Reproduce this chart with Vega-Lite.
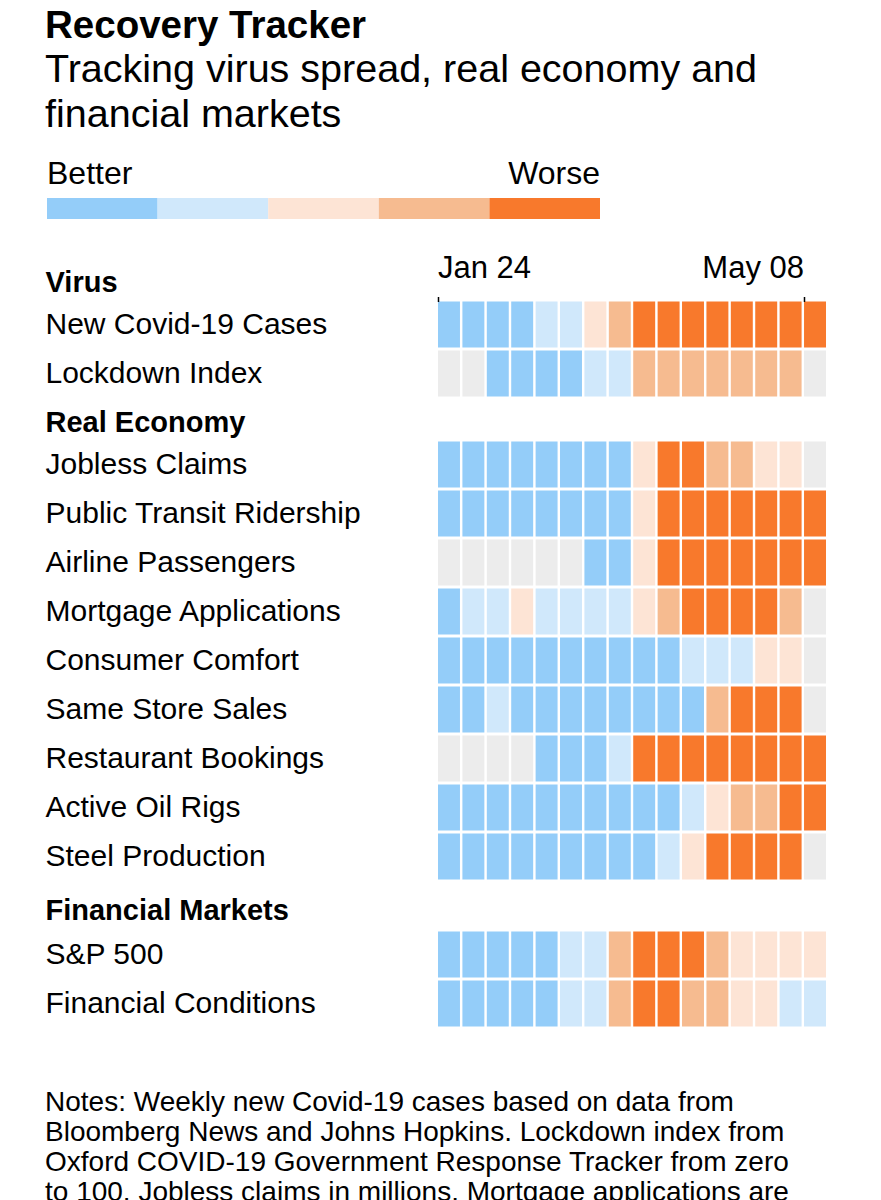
{
  "$schema": "https://vega.github.io/schema/vega-lite/v6.json",
  "background": "white",
  "padding": {"left": 45, "top": 7, "right": 10, "bottom": 0},
  "config": {"view": {"stroke": null}, "font": "Liberation Sans", "axis": {"labelColor": "black", "labelFont": "Liberation Sans"}},
  "title": {
    "text": "Recovery Tracker",
    "subtitle": ["Tracking virus spread, real economy and", "financial markets"],
    "anchor": "start", "frame": "bounds",
    "font": "Liberation Sans", "fontSize": 38.5, "fontWeight": "bold", "color": "black",
    "subtitleFont": "Liberation Sans", "subtitleFontSize": 39.5, "subtitleColor": "black",
    "subtitleLineHeight": 45, "subtitlePadding": 4, "offset": 22
  },
  "datasets": {
    "legend": [{"level": 1}, {"level": 2}, {"level": 3}, {"level": 4}, {"level": 5}],
    "virus": [
      {"indicator": "New Covid-19 Cases", "week": "Jan 24", "level": 1},
      {"indicator": "New Covid-19 Cases", "week": "Jan 31", "level": 1},
      {"indicator": "New Covid-19 Cases", "week": "Feb 07", "level": 1},
      {"indicator": "New Covid-19 Cases", "week": "Feb 14", "level": 1},
      {"indicator": "New Covid-19 Cases", "week": "Feb 21", "level": 2},
      {"indicator": "New Covid-19 Cases", "week": "Feb 28", "level": 2},
      {"indicator": "New Covid-19 Cases", "week": "Mar 06", "level": 3},
      {"indicator": "New Covid-19 Cases", "week": "Mar 13", "level": 4},
      {"indicator": "New Covid-19 Cases", "week": "Mar 20", "level": 5},
      {"indicator": "New Covid-19 Cases", "week": "Mar 27", "level": 5},
      {"indicator": "New Covid-19 Cases", "week": "Apr 03", "level": 5},
      {"indicator": "New Covid-19 Cases", "week": "Apr 10", "level": 5},
      {"indicator": "New Covid-19 Cases", "week": "Apr 17", "level": 5},
      {"indicator": "New Covid-19 Cases", "week": "Apr 24", "level": 5},
      {"indicator": "New Covid-19 Cases", "week": "May 01", "level": 5},
      {"indicator": "New Covid-19 Cases", "week": "May 08", "level": 5},
      {"indicator": "Lockdown Index", "week": "Jan 24", "level": 0},
      {"indicator": "Lockdown Index", "week": "Jan 31", "level": 0},
      {"indicator": "Lockdown Index", "week": "Feb 07", "level": 1},
      {"indicator": "Lockdown Index", "week": "Feb 14", "level": 1},
      {"indicator": "Lockdown Index", "week": "Feb 21", "level": 1},
      {"indicator": "Lockdown Index", "week": "Feb 28", "level": 1},
      {"indicator": "Lockdown Index", "week": "Mar 06", "level": 2},
      {"indicator": "Lockdown Index", "week": "Mar 13", "level": 2},
      {"indicator": "Lockdown Index", "week": "Mar 20", "level": 4},
      {"indicator": "Lockdown Index", "week": "Mar 27", "level": 4},
      {"indicator": "Lockdown Index", "week": "Apr 03", "level": 4},
      {"indicator": "Lockdown Index", "week": "Apr 10", "level": 4},
      {"indicator": "Lockdown Index", "week": "Apr 17", "level": 4},
      {"indicator": "Lockdown Index", "week": "Apr 24", "level": 4},
      {"indicator": "Lockdown Index", "week": "May 01", "level": 4},
      {"indicator": "Lockdown Index", "week": "May 08", "level": 0}
    ],
    "economy": [
      {"indicator": "Jobless Claims", "week": "Jan 24", "level": 1},
      {"indicator": "Jobless Claims", "week": "Jan 31", "level": 1},
      {"indicator": "Jobless Claims", "week": "Feb 07", "level": 1},
      {"indicator": "Jobless Claims", "week": "Feb 14", "level": 1},
      {"indicator": "Jobless Claims", "week": "Feb 21", "level": 1},
      {"indicator": "Jobless Claims", "week": "Feb 28", "level": 1},
      {"indicator": "Jobless Claims", "week": "Mar 06", "level": 1},
      {"indicator": "Jobless Claims", "week": "Mar 13", "level": 1},
      {"indicator": "Jobless Claims", "week": "Mar 20", "level": 3},
      {"indicator": "Jobless Claims", "week": "Mar 27", "level": 5},
      {"indicator": "Jobless Claims", "week": "Apr 03", "level": 5},
      {"indicator": "Jobless Claims", "week": "Apr 10", "level": 4},
      {"indicator": "Jobless Claims", "week": "Apr 17", "level": 4},
      {"indicator": "Jobless Claims", "week": "Apr 24", "level": 3},
      {"indicator": "Jobless Claims", "week": "May 01", "level": 3},
      {"indicator": "Jobless Claims", "week": "May 08", "level": 0},
      {"indicator": "Public Transit Ridership", "week": "Jan 24", "level": 1},
      {"indicator": "Public Transit Ridership", "week": "Jan 31", "level": 1},
      {"indicator": "Public Transit Ridership", "week": "Feb 07", "level": 1},
      {"indicator": "Public Transit Ridership", "week": "Feb 14", "level": 1},
      {"indicator": "Public Transit Ridership", "week": "Feb 21", "level": 1},
      {"indicator": "Public Transit Ridership", "week": "Feb 28", "level": 1},
      {"indicator": "Public Transit Ridership", "week": "Mar 06", "level": 1},
      {"indicator": "Public Transit Ridership", "week": "Mar 13", "level": 1},
      {"indicator": "Public Transit Ridership", "week": "Mar 20", "level": 3},
      {"indicator": "Public Transit Ridership", "week": "Mar 27", "level": 5},
      {"indicator": "Public Transit Ridership", "week": "Apr 03", "level": 5},
      {"indicator": "Public Transit Ridership", "week": "Apr 10", "level": 5},
      {"indicator": "Public Transit Ridership", "week": "Apr 17", "level": 5},
      {"indicator": "Public Transit Ridership", "week": "Apr 24", "level": 5},
      {"indicator": "Public Transit Ridership", "week": "May 01", "level": 5},
      {"indicator": "Public Transit Ridership", "week": "May 08", "level": 5},
      {"indicator": "Airline Passengers", "week": "Jan 24", "level": 0},
      {"indicator": "Airline Passengers", "week": "Jan 31", "level": 0},
      {"indicator": "Airline Passengers", "week": "Feb 07", "level": 0},
      {"indicator": "Airline Passengers", "week": "Feb 14", "level": 0},
      {"indicator": "Airline Passengers", "week": "Feb 21", "level": 0},
      {"indicator": "Airline Passengers", "week": "Feb 28", "level": 0},
      {"indicator": "Airline Passengers", "week": "Mar 06", "level": 1},
      {"indicator": "Airline Passengers", "week": "Mar 13", "level": 1},
      {"indicator": "Airline Passengers", "week": "Mar 20", "level": 3},
      {"indicator": "Airline Passengers", "week": "Mar 27", "level": 5},
      {"indicator": "Airline Passengers", "week": "Apr 03", "level": 5},
      {"indicator": "Airline Passengers", "week": "Apr 10", "level": 5},
      {"indicator": "Airline Passengers", "week": "Apr 17", "level": 5},
      {"indicator": "Airline Passengers", "week": "Apr 24", "level": 5},
      {"indicator": "Airline Passengers", "week": "May 01", "level": 5},
      {"indicator": "Airline Passengers", "week": "May 08", "level": 5},
      {"indicator": "Mortgage Applications", "week": "Jan 24", "level": 1},
      {"indicator": "Mortgage Applications", "week": "Jan 31", "level": 2},
      {"indicator": "Mortgage Applications", "week": "Feb 07", "level": 2},
      {"indicator": "Mortgage Applications", "week": "Feb 14", "level": 3},
      {"indicator": "Mortgage Applications", "week": "Feb 21", "level": 2},
      {"indicator": "Mortgage Applications", "week": "Feb 28", "level": 2},
      {"indicator": "Mortgage Applications", "week": "Mar 06", "level": 2},
      {"indicator": "Mortgage Applications", "week": "Mar 13", "level": 2},
      {"indicator": "Mortgage Applications", "week": "Mar 20", "level": 3},
      {"indicator": "Mortgage Applications", "week": "Mar 27", "level": 4},
      {"indicator": "Mortgage Applications", "week": "Apr 03", "level": 5},
      {"indicator": "Mortgage Applications", "week": "Apr 10", "level": 5},
      {"indicator": "Mortgage Applications", "week": "Apr 17", "level": 5},
      {"indicator": "Mortgage Applications", "week": "Apr 24", "level": 5},
      {"indicator": "Mortgage Applications", "week": "May 01", "level": 4},
      {"indicator": "Mortgage Applications", "week": "May 08", "level": 0},
      {"indicator": "Consumer Comfort", "week": "Jan 24", "level": 1},
      {"indicator": "Consumer Comfort", "week": "Jan 31", "level": 1},
      {"indicator": "Consumer Comfort", "week": "Feb 07", "level": 1},
      {"indicator": "Consumer Comfort", "week": "Feb 14", "level": 1},
      {"indicator": "Consumer Comfort", "week": "Feb 21", "level": 1},
      {"indicator": "Consumer Comfort", "week": "Feb 28", "level": 1},
      {"indicator": "Consumer Comfort", "week": "Mar 06", "level": 1},
      {"indicator": "Consumer Comfort", "week": "Mar 13", "level": 1},
      {"indicator": "Consumer Comfort", "week": "Mar 20", "level": 1},
      {"indicator": "Consumer Comfort", "week": "Mar 27", "level": 1},
      {"indicator": "Consumer Comfort", "week": "Apr 03", "level": 2},
      {"indicator": "Consumer Comfort", "week": "Apr 10", "level": 2},
      {"indicator": "Consumer Comfort", "week": "Apr 17", "level": 2},
      {"indicator": "Consumer Comfort", "week": "Apr 24", "level": 3},
      {"indicator": "Consumer Comfort", "week": "May 01", "level": 3},
      {"indicator": "Consumer Comfort", "week": "May 08", "level": 0},
      {"indicator": "Same Store Sales", "week": "Jan 24", "level": 1},
      {"indicator": "Same Store Sales", "week": "Jan 31", "level": 1},
      {"indicator": "Same Store Sales", "week": "Feb 07", "level": 2},
      {"indicator": "Same Store Sales", "week": "Feb 14", "level": 1},
      {"indicator": "Same Store Sales", "week": "Feb 21", "level": 1},
      {"indicator": "Same Store Sales", "week": "Feb 28", "level": 1},
      {"indicator": "Same Store Sales", "week": "Mar 06", "level": 1},
      {"indicator": "Same Store Sales", "week": "Mar 13", "level": 1},
      {"indicator": "Same Store Sales", "week": "Mar 20", "level": 1},
      {"indicator": "Same Store Sales", "week": "Mar 27", "level": 1},
      {"indicator": "Same Store Sales", "week": "Apr 03", "level": 1},
      {"indicator": "Same Store Sales", "week": "Apr 10", "level": 4},
      {"indicator": "Same Store Sales", "week": "Apr 17", "level": 5},
      {"indicator": "Same Store Sales", "week": "Apr 24", "level": 5},
      {"indicator": "Same Store Sales", "week": "May 01", "level": 5},
      {"indicator": "Same Store Sales", "week": "May 08", "level": 0},
      {"indicator": "Restaurant Bookings", "week": "Jan 24", "level": 0},
      {"indicator": "Restaurant Bookings", "week": "Jan 31", "level": 0},
      {"indicator": "Restaurant Bookings", "week": "Feb 07", "level": 0},
      {"indicator": "Restaurant Bookings", "week": "Feb 14", "level": 0},
      {"indicator": "Restaurant Bookings", "week": "Feb 21", "level": 1},
      {"indicator": "Restaurant Bookings", "week": "Feb 28", "level": 1},
      {"indicator": "Restaurant Bookings", "week": "Mar 06", "level": 1},
      {"indicator": "Restaurant Bookings", "week": "Mar 13", "level": 2},
      {"indicator": "Restaurant Bookings", "week": "Mar 20", "level": 5},
      {"indicator": "Restaurant Bookings", "week": "Mar 27", "level": 5},
      {"indicator": "Restaurant Bookings", "week": "Apr 03", "level": 5},
      {"indicator": "Restaurant Bookings", "week": "Apr 10", "level": 5},
      {"indicator": "Restaurant Bookings", "week": "Apr 17", "level": 5},
      {"indicator": "Restaurant Bookings", "week": "Apr 24", "level": 5},
      {"indicator": "Restaurant Bookings", "week": "May 01", "level": 5},
      {"indicator": "Restaurant Bookings", "week": "May 08", "level": 5},
      {"indicator": "Active Oil Rigs", "week": "Jan 24", "level": 1},
      {"indicator": "Active Oil Rigs", "week": "Jan 31", "level": 1},
      {"indicator": "Active Oil Rigs", "week": "Feb 07", "level": 1},
      {"indicator": "Active Oil Rigs", "week": "Feb 14", "level": 1},
      {"indicator": "Active Oil Rigs", "week": "Feb 21", "level": 1},
      {"indicator": "Active Oil Rigs", "week": "Feb 28", "level": 1},
      {"indicator": "Active Oil Rigs", "week": "Mar 06", "level": 1},
      {"indicator": "Active Oil Rigs", "week": "Mar 13", "level": 1},
      {"indicator": "Active Oil Rigs", "week": "Mar 20", "level": 1},
      {"indicator": "Active Oil Rigs", "week": "Mar 27", "level": 1},
      {"indicator": "Active Oil Rigs", "week": "Apr 03", "level": 2},
      {"indicator": "Active Oil Rigs", "week": "Apr 10", "level": 3},
      {"indicator": "Active Oil Rigs", "week": "Apr 17", "level": 4},
      {"indicator": "Active Oil Rigs", "week": "Apr 24", "level": 4},
      {"indicator": "Active Oil Rigs", "week": "May 01", "level": 5},
      {"indicator": "Active Oil Rigs", "week": "May 08", "level": 5},
      {"indicator": "Steel Production", "week": "Jan 24", "level": 1},
      {"indicator": "Steel Production", "week": "Jan 31", "level": 1},
      {"indicator": "Steel Production", "week": "Feb 07", "level": 1},
      {"indicator": "Steel Production", "week": "Feb 14", "level": 1},
      {"indicator": "Steel Production", "week": "Feb 21", "level": 1},
      {"indicator": "Steel Production", "week": "Feb 28", "level": 1},
      {"indicator": "Steel Production", "week": "Mar 06", "level": 1},
      {"indicator": "Steel Production", "week": "Mar 13", "level": 1},
      {"indicator": "Steel Production", "week": "Mar 20", "level": 1},
      {"indicator": "Steel Production", "week": "Mar 27", "level": 2},
      {"indicator": "Steel Production", "week": "Apr 03", "level": 3},
      {"indicator": "Steel Production", "week": "Apr 10", "level": 5},
      {"indicator": "Steel Production", "week": "Apr 17", "level": 5},
      {"indicator": "Steel Production", "week": "Apr 24", "level": 5},
      {"indicator": "Steel Production", "week": "May 01", "level": 5},
      {"indicator": "Steel Production", "week": "May 08", "level": 0}
    ],
    "markets": [
      {"indicator": "S&P 500", "week": "Jan 24", "level": 1},
      {"indicator": "S&P 500", "week": "Jan 31", "level": 1},
      {"indicator": "S&P 500", "week": "Feb 07", "level": 1},
      {"indicator": "S&P 500", "week": "Feb 14", "level": 1},
      {"indicator": "S&P 500", "week": "Feb 21", "level": 1},
      {"indicator": "S&P 500", "week": "Feb 28", "level": 2},
      {"indicator": "S&P 500", "week": "Mar 06", "level": 2},
      {"indicator": "S&P 500", "week": "Mar 13", "level": 4},
      {"indicator": "S&P 500", "week": "Mar 20", "level": 5},
      {"indicator": "S&P 500", "week": "Mar 27", "level": 5},
      {"indicator": "S&P 500", "week": "Apr 03", "level": 5},
      {"indicator": "S&P 500", "week": "Apr 10", "level": 4},
      {"indicator": "S&P 500", "week": "Apr 17", "level": 3},
      {"indicator": "S&P 500", "week": "Apr 24", "level": 3},
      {"indicator": "S&P 500", "week": "May 01", "level": 3},
      {"indicator": "S&P 500", "week": "May 08", "level": 3},
      {"indicator": "Financial Conditions", "week": "Jan 24", "level": 1},
      {"indicator": "Financial Conditions", "week": "Jan 31", "level": 1},
      {"indicator": "Financial Conditions", "week": "Feb 07", "level": 1},
      {"indicator": "Financial Conditions", "week": "Feb 14", "level": 1},
      {"indicator": "Financial Conditions", "week": "Feb 21", "level": 1},
      {"indicator": "Financial Conditions", "week": "Feb 28", "level": 2},
      {"indicator": "Financial Conditions", "week": "Mar 06", "level": 2},
      {"indicator": "Financial Conditions", "week": "Mar 13", "level": 4},
      {"indicator": "Financial Conditions", "week": "Mar 20", "level": 5},
      {"indicator": "Financial Conditions", "week": "Mar 27", "level": 5},
      {"indicator": "Financial Conditions", "week": "Apr 03", "level": 4},
      {"indicator": "Financial Conditions", "week": "Apr 10", "level": 4},
      {"indicator": "Financial Conditions", "week": "Apr 17", "level": 3},
      {"indicator": "Financial Conditions", "week": "Apr 24", "level": 3},
      {"indicator": "Financial Conditions", "week": "May 01", "level": 2},
      {"indicator": "Financial Conditions", "week": "May 08", "level": 2}
    ]
  },
  "spacing": 32,
  "vconcat": [
    {
      "data": {"name": "legend"},
      "width": 162,
      "height": 21,
      "mark": {"type": "rect"},
      "encoding": {
        "x": {
          "field": "level", "type": "ordinal",
          "scale": {"range": [-391, 162], "paddingInner": 0, "paddingOuter": 0},
          "axis": {
            "orient": "top", "values": [1, 5], "title": null,
            "labelExpr": "datum.value == 1 ? 'Better' : 'Worse'",
            "labelAlign": {"condition": {"test": "datum.value == 1", "value": "left"}, "value": "right"},
            "labelOffset": {"condition": {"test": "datum.value == 1", "value": -55.3}, "value": 55.3},
            "ticks": false, "domain": false, "labelAngle": 0, "labelPadding": 8, "labelFontSize": 32
          }
        },
        "color": {
          "field": "level", "type": "ordinal", "legend": null,
          "scale": {"domain": [0, 1, 2, 3, 4, 5], "range": ["#ececec", "#94cdf9", "#d0e8fb", "#fde4d5", "#f6bb90", "#f8792c"]}
        }
      }
    },
    {
      "spacing": 0,
      "resolve": {"scale": {"x": "independent", "y": "independent"}},
      "vconcat": [
        {
          "data": {"name": "virus"},
          "width": 388,
          "height": 147,
          "mark": {"type": "rect"},
          "encoding": {
            "x": {
              "field": "week", "type": "ordinal",
              "scale": {"domain": ["Jan 24", "Jan 31", "Feb 07", "Feb 14", "Feb 21", "Feb 28", "Mar 06", "Mar 13", "Mar 20", "Mar 27", "Apr 03", "Apr 10", "Apr 17", "Apr 24", "May 01", "May 08"], "paddingInner": 0.1, "paddingOuter": 0},
              "axis": {
                "orient": "top", "values": ["Jan 24", "May 08"], "bandPosition": 0, "offset": -50.5,
                "title": null, "domain": false, "tickSize": 5, "tickWidth": 1.5, "tickColor": "black",
                "labelAngle": 0, "labelPadding": 12, "labelFontSize": 31, "labelOffset": -11,
                "labelAlign": {"condition": {"test": "datum.value == 'Jan 24'", "value": "left"}, "value": "right"}
              }
            },
            "y": {
              "field": "indicator", "type": "nominal",
              "scale": {"domain": ["Virus", "New Covid-19 Cases", "Lockdown Index"], "paddingInner": 0.0612, "paddingOuter": 0.0306},
              "axis": {
                "title": null, "domain": false, "ticks": false, "tickSize": 0, "labelAlign": "left", "labelBaseline": "middle",
                "labelPadding": 393, "labelLimit": 500, "labelFontSize": {"condition": {"test": "datum.value == 'Virus'", "value": 29}, "value": 30},
                "labelFontWeight": {"condition": {"test": "datum.value == 'Virus'", "value": "bold"}, "value": "normal"},
                "labelOffset": {"condition": {"test": "datum.value == 'Virus'", "value": 7}, "value": 0}
              }
            },
            "color": {
              "field": "level", "type": "ordinal", "legend": null,
              "scale": {"domain": [0, 1, 2, 3, 4, 5], "range": ["#ececec", "#94cdf9", "#d0e8fb", "#fde4d5", "#f6bb90", "#f8792c"]}
            }
          }
        },
        {
          "data": {"name": "economy"},
          "width": 388,
          "height": 483,
          "mark": {"type": "rect"},
          "encoding": {
            "x": {
              "field": "week", "type": "ordinal",
              "scale": {"domain": ["Jan 24", "Jan 31", "Feb 07", "Feb 14", "Feb 21", "Feb 28", "Mar 06", "Mar 13", "Mar 20", "Mar 27", "Apr 03", "Apr 10", "Apr 17", "Apr 24", "May 01", "May 08"], "paddingInner": 0.1, "paddingOuter": 0},
              "axis": null
            },
            "y": {
              "field": "indicator", "type": "nominal",
              "scale": {"domain": ["Real Economy", "Jobless Claims", "Public Transit Ridership", "Airline Passengers", "Mortgage Applications", "Consumer Comfort", "Same Store Sales", "Restaurant Bookings", "Active Oil Rigs", "Steel Production"], "range": [-7, 483], "paddingInner": 0.0612, "paddingOuter": 0.0306},
              "axis": {
                "title": null, "domain": false, "ticks": false, "tickSize": 0, "labelAlign": "left", "labelBaseline": "middle",
                "labelPadding": 393, "labelLimit": 500, "labelFontSize": {"condition": {"test": "datum.value == 'Real Economy'", "value": 29}, "value": 30},
                "labelFontWeight": {"condition": {"test": "datum.value == 'Real Economy'", "value": "bold"}, "value": "normal"},
                "labelOffset": {"condition": {"test": "datum.value == 'Real Economy'", "value": 7}, "value": 0}
              }
            },
            "color": {
              "field": "level", "type": "ordinal", "legend": null,
              "scale": {"domain": [0, 1, 2, 3, 4, 5], "range": ["#ececec", "#94cdf9", "#d0e8fb", "#fde4d5", "#f6bb90", "#f8792c"]}
            }
          }
        },
        {
          "data": {"name": "markets"},
          "width": 388,
          "height": 140,
          "title": {
            "text": ["Notes: Weekly new Covid-19 cases based on data from", "Bloomberg News and Johns Hopkins. Lockdown index from", "Oxford COVID-19 Government Response Tracker  from zero", "to 100. Jobless claims in millions. Mortgage applications are"],
            "orient": "bottom", "anchor": "start", "frame": "bounds",
            "font": "Liberation Sans", "fontSize": 28, "fontWeight": "normal", "color": "black",
            "lineHeight": 30, "offset": 54
          },
          "mark": {"type": "rect"},
          "encoding": {
            "x": {
              "field": "week", "type": "ordinal",
              "scale": {"domain": ["Jan 24", "Jan 31", "Feb 07", "Feb 14", "Feb 21", "Feb 28", "Mar 06", "Mar 13", "Mar 20", "Mar 27", "Apr 03", "Apr 10", "Apr 17", "Apr 24", "May 01", "May 08"], "paddingInner": 0.1, "paddingOuter": 0},
              "axis": null
            },
            "y": {
              "field": "indicator", "type": "nominal",
              "scale": {"domain": ["Financial Markets", "S&P 500", "Financial Conditions"], "range": [-7, 140], "paddingInner": 0.0612, "paddingOuter": 0.0306},
              "axis": {
                "title": null, "domain": false, "ticks": false, "tickSize": 0, "labelAlign": "left", "labelBaseline": "middle",
                "labelPadding": 393, "labelLimit": 500, "labelFontSize": {"condition": {"test": "datum.value == 'Financial Markets'", "value": 29}, "value": 30},
                "labelFontWeight": {"condition": {"test": "datum.value == 'Financial Markets'", "value": "bold"}, "value": "normal"},
                "labelOffset": {"condition": {"test": "datum.value == 'Financial Markets'", "value": 5}, "value": 0}
              }
            },
            "color": {
              "field": "level", "type": "ordinal", "legend": null,
              "scale": {"domain": [0, 1, 2, 3, 4, 5], "range": ["#ececec", "#94cdf9", "#d0e8fb", "#fde4d5", "#f6bb90", "#f8792c"]}
            }
          }
        }
      ]
    }
  ]
}
